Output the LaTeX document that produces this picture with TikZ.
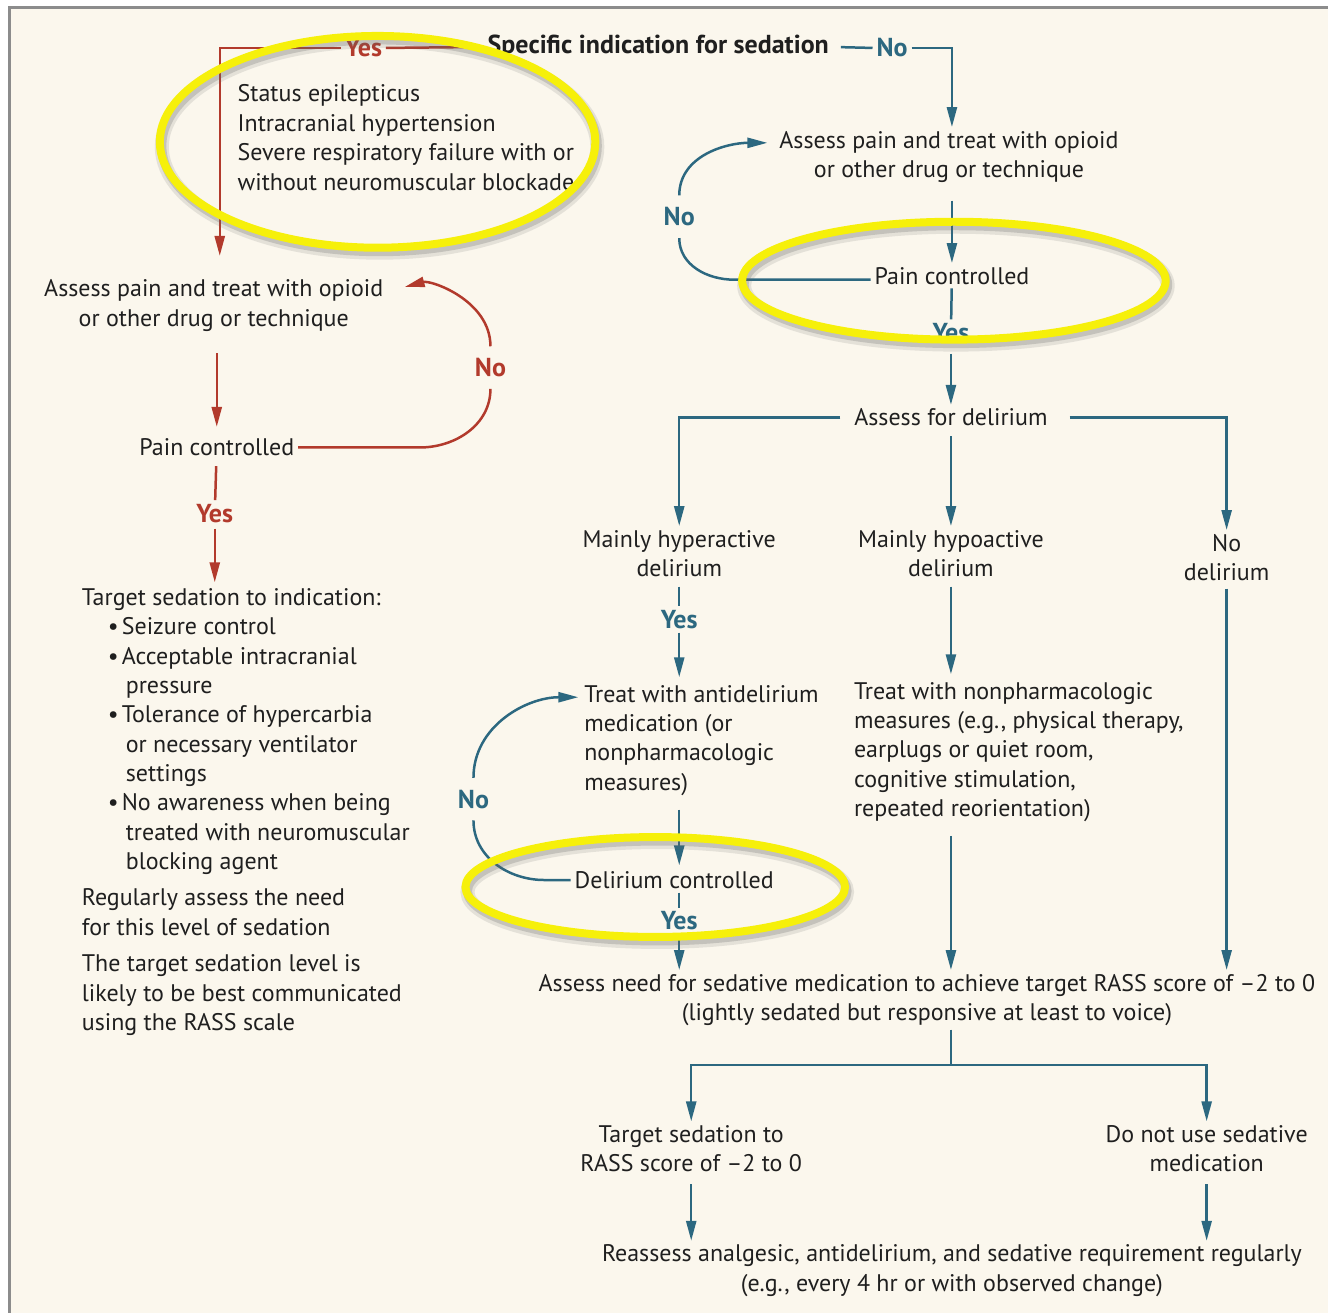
\documentclass[tikz,border=0pt]{standalone}
\usepackage{fontspec}
\setmainfont{PT Sans}
\usetikzlibrary{arrows.meta}

\definecolor{nejmred}{RGB}{178,58,44}
\definecolor{nejmteal}{RGB}{44,104,128}
\definecolor{paper}{RGB}{251,247,237}
\definecolor{hilite}{RGB}{246,240,10}

\begin{document}
\begin{tikzpicture}[x=0.5pt, y=-0.5pt,
    every node/.style={inner sep=0pt, outer sep=2pt, text=black!88, font=\fontsize{12}{14.7}\selectfont},
    txt/.style={align=center},
    lft/.style={align=left, anchor=north west, outer sep=0pt},
    yn/.style={font=\fontsize{13}{15}\selectfont\bfseries},
    loopno/.style={yn, outer sep=6pt},
    rd/.style={draw=nejmred, line width=1.25pt},
    tl/.style={draw=nejmteal, line width=1.25pt},
    arr/.style={-{Triangle[length=10pt, width=5pt]}},
    ring/.style={draw=hilite, line width=4pt}]
    % Background
    \fill[white] (0,0) rectangle (1329,1314);
    \fill[paper] (10,8) rectangle (1329,1314);
    \draw[black!45, line width=1.5pt] (10,1314) -- (10,8) -- (1329,8);

    % Nodes
    \node[font=\fontsize{13}{15}\selectfont\bfseries] (spec) at (659,47) {Specific indication for sedation};
    \node[yn, text=nejmred] (yes0) at (364,48) {Yes};
    \node[yn, text=nejmteal] (no0) at (893,48) {No};
    \coordinate (c1) at (220,48);
    \coordinate (c2) at (953,48);
    \node[lft] (ind) at (238,85) {Status epilepticus\\Intracranial hypertension\\Severe respiratory failure with or\\without neuromuscular blockade};

    \node[txt] (pa1) at (214,306) {Assess pain and treat with opioid\\or other drug or technique};
    \node (pc1) at (217,448) {Pain controlled};
    \node[loopno, text=nejmred] (no1) at (491,368) {No};
    \node[yn, text=nejmred] (yes1) at (215,514) {Yes};
    \node[lft] (tgt) at (82,589) {Target sedation to indication:\\
        \hspace*{13pt}\makebox[7pt][l]{\textbullet}Seizure control\\
        \hspace*{13pt}\makebox[7pt][l]{\textbullet}Acceptable intracranial\\
        \hspace*{22pt}pressure\\
        \hspace*{13pt}\makebox[7pt][l]{\textbullet}Tolerance of hypercarbia\\
        \hspace*{22pt}or necessary ventilator\\
        \hspace*{22pt}settings\\
        \hspace*{13pt}\makebox[7pt][l]{\textbullet}No awareness when being\\
        \hspace*{22pt}treated with neuromuscular\\
        \hspace*{22pt}blocking agent\\[3.5pt]
        Regularly assess the need\\for this level of sedation\\[3.5pt]
        The target sedation level is\\likely to be best communicated\\using the RASS scale};

    \node[txt] (pa2) at (950,157) {Assess pain and treat with opioid\\or other drug or technique};
    \node (pc2) at (953,276) {Pain controlled};
    \node[loopno, text=nejmteal] (no2) at (680,217) {No};
    \node[yn, text=nejmteal] (yes2) at (952,333) {Yes};
    \node (asd) at (952,418) {Assess for delirium};
    \node[txt] (hyper) at (680,554) {Mainly hyperactive\\delirium};
    \node[txt] (hypo) at (952,554) {Mainly hypoactive\\delirium};
    \node[txt] (nodel) at (1228,558) {No\\delirium};
    \node[yn, text=nejmteal] (yes3) at (680,620) {Yes};
    \node[lft] (tad) at (585,686) {Treat with antidelirium\\medication (or\\nonpharmacologic\\measures)};
    \node[lft] (tnp) at (855,683) {Treat with nonpharmacologic\\measures (e.g., physical therapy,\\earplugs or quiet room,\\cognitive stimulation,\\repeated reorientation)};
    \node[loopno, text=nejmteal] (no3) at (474,800) {No};
    \node (dc) at (675,881) {Delirium controlled};
    \node[yn, text=nejmteal] (yes4) at (680,922) {Yes};
    \node[txt] (need) at (928,1001) {Assess need for sedative medication to achieve target RASS score of \textendash2 to 0\\(lightly sedated but responsive at least to voice)};
    \coordinate (c3) at (952,1066);
    \node[txt] (trass) at (692,1150) {Target sedation to\\RASS score of \textendash2 to 0};
    \node[txt] (nosed) at (1208,1150) {Do not use sedative\\medication};
    \node[txt] (reas) at (953,1272) {Reassess analgesic, antidelirium, and sedative requirement regularly\\(e.g., every 4 hr or with observed change)};

    % Arrows, left branch
    \draw[rd, shorten <=3pt] (spec.west) -- (yes0.east);
    \draw[rd, arr, shorten >=10pt] (yes0.west) -- (c1) -- (c1 |- pa1.north);
    \draw[rd, arr, shorten <=9pt, shorten >=4pt] (pa1.south -| pc1) -- (pc1.north);
    \draw[rd, shorten <=3pt] (pc1) -- (yes1);
    \draw[rd, arr, shorten <=1pt, shorten >=3pt] (yes1) -- (yes1 |- tgt.north);
    \draw[rd] (pc1.east) -- (420,448) to[out=0, in=-90] (no1.south);
    \draw[rd, arr, shorten >=9pt] (no1.north) to[out=90, in=15] ([yshift=7pt]pa1.east);

    % Arrows, right branch
    \draw[tl, shorten <=4pt] (spec.east) -- (no0.west);
    \draw[tl, arr] (no0.east) -- (c2) -- (c2 |- pa2.north);
    \draw[tl, arr, shorten <=7pt] (pc2.north |- pa2.south) -- (pc2.north);
    \draw[tl] (pc2) -- (yes2);
    \draw[tl, arr, shorten <=4pt] (yes2) -- (asd);
    \draw[tl] ([yshift=-2pt]pc2.west) -- (735,280) to[out=180, in=-90] (no2.south);
    \draw[tl, arr] (no2.north) to[out=90, in=180] ([xshift=-4pt, yshift=7pt]pa2.west);

    \draw[tl, arr, shorten <=5pt] (asd.west) -| (hyper.north);
    \draw[tl, arr, shorten <=3pt] (asd.south) -- (hypo.north);
    \draw[tl, arr, shorten <=9pt] (asd.east) -| (nodel.north);

    \draw[tl, shorten <=3pt] (hyper.south -| yes3) -- (yes3);
    \draw[tl, arr, shorten >=4pt] (yes3) -- (yes3 |- tad.north);
    \draw[tl, arr, shorten <=3pt, shorten >=4pt] (hypo.south) -- (hypo.south |- tnp.north);
    \draw[tl, arr, shorten <=7pt, shorten >=1pt] (yes3 |- tad.south) -- (yes3 |- dc.north);
    \draw[tl] (dc.west) -- (545,881) to[out=180, in=-90] (no3.south);
    \draw[tl, arr] (no3.north) to[out=90, in=180] ([xshift=-3pt, yshift=-6pt]tad.north west);
    \draw[tl] (dc.south -| yes4) -- (yes4);
    \draw[tl, arr] (yes4) -- (yes4 |- need.north);
    \draw[tl, arr, shorten <=7pt] (hypo |- tnp.south) -- (hypo |- need.north);
    \draw[tl, arr, shorten <=2pt] (nodel.south) -- (nodel.south |- need.north);

    \draw[tl] (c3 |- need.south) -- (c3);
    \draw[tl, arr] (c3) -| (trass.north);
    \draw[tl, arr] (c3) -| (nosed.north);
    \draw[tl, arr, shorten <=4pt] (trass.south) -- (trass.south |- reas.north);
    \draw[tl, arr, shorten <=4pt] (nosed.south) -- (nosed.south |- reas.north);

    % Highlight rings
    \foreach \cx/\cy/\rx/\ry in {378/142/218/106, 955/281/212/59, 656/888/190/50} {
        \draw[black!60, opacity=.15, line width=7pt] (\cx+2,\cy+5) ellipse [x radius=\rx*0.5pt, y radius=\ry*0.5pt];
        \draw[black!60, opacity=.25, line width=4.5pt] (\cx+2,\cy+4) ellipse [x radius=\rx*0.5pt, y radius=\ry*0.5pt];
        \draw[ring] (\cx,\cy) ellipse [x radius=\rx*0.5pt, y radius=\ry*0.5pt];
    }
\end{tikzpicture}
\end{document}
